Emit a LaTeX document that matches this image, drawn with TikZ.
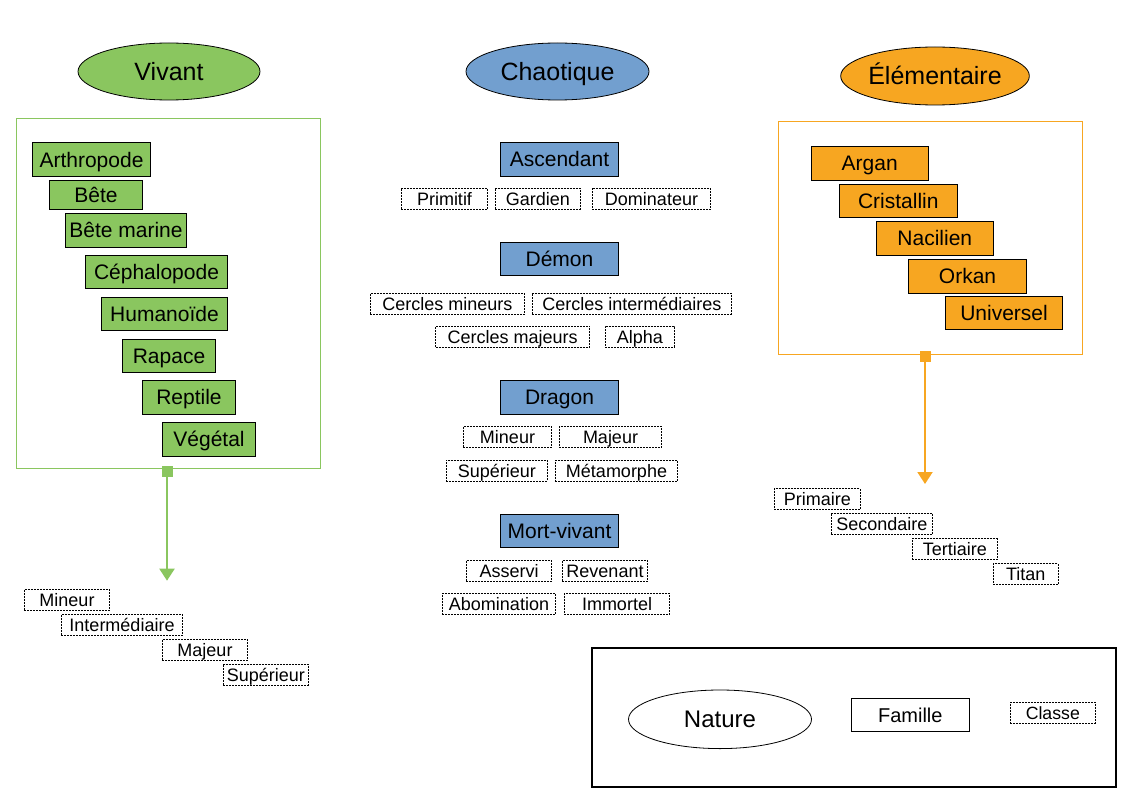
\documentclass[tikz,border=0pt]{standalone}
\usepackage{fontspec}
\setmainfont{Liberation Sans}
\usetikzlibrary{shapes.geometric,arrows.meta}
\definecolor{vgreen}{RGB}{138,198,95}
\definecolor{cblue}{RGB}{114,159,207}
\definecolor{eorange}{RGB}{247,166,33}
\tikzset{
  nature/.style={ellipse, draw=black, line width=0.8pt, inner sep=0pt, text height=18pt, text depth=0pt, font=\fontsize{25}{30}\selectfont},
  famille/.style={rectangle, draw=black, line width=0.9pt, inner sep=0pt, text height=15.1pt, text depth=0pt, minimum height=34pt, font=\fontsize{21}{25}\selectfont},
  classe/.style={rectangle, draw=black, line width=0.7pt, dash pattern=on 2pt off 1pt, inner sep=0pt, text height=13pt, text depth=0pt, minimum height=21pt, font=\fontsize{18}{21}\selectfont},
  cadre/.style={rectangle, line width=0.9pt, inner sep=0pt},
  sqmark/.style={rectangle, inner sep=0pt, minimum size=11pt},
  fleche/.style={line width=2pt, -{Triangle[length=12pt,width=15pt]}},
}
\begin{document}
\begin{tikzpicture}[x=1pt,y=-1pt]
\useasboundingbox (0,0) rectangle (1123,794);
% ---------- Vivant ----------
\node[nature, fill=vgreen, minimum width=182pt, minimum height=57pt] (vivant) at (169,71.5) {Vivant};
\node[cadre, draw=vgreen, minimum width=304pt, minimum height=350pt] (framev) at (168,293) {};
\begin{scope}[every node/.append style={famille, fill=vgreen}]
\node[minimum width=118.4pt] (arthropode) at (91.5,159.7) {Arthropode};
\node[minimum width=93.4pt, minimum height=29pt] (bete) at (96,194.8) {Bête};
\node[minimum width=121.4pt] (betemarine) at (126,230.3) {Bête marine};
\node[minimum width=142.4pt, minimum height=33pt] (cephalopode) at (156.5,271.8) {Céphalopode};
\node[minimum width=126.4pt, minimum height=33pt] (humanoide) at (164.5,313.8) {Humanoïde};
\node[minimum width=93.4pt, minimum height=33pt] (rapace) at (169,355.8) {Rapace};
\node[minimum width=93.4pt] (reptile) at (189,397.3) {Reptile};
\node[minimum width=93.4pt] (vegetal) at (209,439.3) {Végétal};
\end{scope}
\node[sqmark, fill=vgreen] (sqv) at (167,471) {};
\coordinate (tipv) at (167,580.7);
\draw[fleche, draw=vgreen, fill=vgreen] (sqv.center) -- (tipv);
\node[classe, minimum width=85.4pt] (vmineur) at (67,599.8) {Mineur};
\node[classe, minimum width=121.4pt] (vinter) at (122,624.8) {Intermédiaire};
\node[classe, minimum width=85.4pt] (vmajeur) at (205,649.8) {Majeur};
\node[classe, minimum width=85pt] (vsup) at (265.8,674.8) {Supérieur};
% ---------- Chaotique ----------
\node[nature, fill=cblue, minimum width=183pt, minimum height=57pt] (chaotique) at (557.5,71.5) {Chaotique};
\begin{scope}[every node/.append style={famille, fill=cblue, minimum width=118.4pt}]
\node (ascendant) at (559.5,159.3) {Ascendant};
\node[minimum height=33.4pt] (demon) at (559.5,259) {Démon};
\node (dragon) at (559.5,397.3) {Dragon};
\node[minimum height=33pt] (mortvivant) at (559.5,530.8) {Mort-vivant};
\end{scope}
\node[classe, minimum width=86.4pt] (primitif) at (444.5,198.8) {Primitif};
\node[classe, minimum width=85pt] (gardien) at (537.8,198.8) {Gardien};
\node[classe, minimum width=118.4pt] (dominateur) at (651.5,198.8) {Dominateur};
\node[classe, minimum width=154.4pt] (cmineurs) at (447.5,303.8) {Cercles mineurs};
\node[classe, minimum width=199pt] (cinter) at (631.8,303.8) {Cercles intermédiaires};
\node[classe, minimum width=154pt] (cmajeurs) at (512.7,336.8) {Cercles majeurs};
\node[classe, minimum width=69pt] (alpha) at (639.8,336.8) {Alpha};
\node[classe, minimum width=88.4pt] (dmineur) at (507.5,436.8) {Mineur};
\node[classe, minimum width=102.4pt] (dmajeur) at (610.5,436.8) {Majeur};
\node[classe, minimum width=101pt] (dsup) at (496.8,470.8) {Supérieur};
\node[classe, minimum width=122.4pt] (dmeta) at (616.5,470.8) {Métamorphe};
\node[classe, minimum width=85.4pt] (asservi) at (509,570.8) {Asservi};
\node[classe, minimum width=85.4pt] (revenant) at (605,570.8) {Revenant};
\node[classe, minimum width=113.4pt] (abomination) at (499,603.8) {Abomination};
\node[classe, minimum width=105.4pt] (immortel) at (617,603.8) {Immortel};
% ---------- Elementaire ----------
\node[nature, fill=eorange, minimum width=184pt, minimum height=58pt] (elementaire) at (935,76) {Élémentaire};
\node[cadre, draw=eorange, minimum width=304.4pt, minimum height=233.5pt] (framee) at (930.5,238) {};
\begin{scope}[every node/.append style={famille, fill=eorange}]
\node[minimum width=117.3pt] (argan) at (869.7,163.2) {Argan};
\node[minimum width=118.7pt, minimum height=33pt] (cristallin) at (898.3,200.6) {Cristallin};
\node[minimum width=117pt] (nacilien) at (934.8,238) {Nacilien};
\node[minimum width=118.4pt] (orkan) at (967.5,276) {Orkan};
\node[minimum width=117.4pt, minimum height=33pt] (universel) at (1004,313.3) {Universel};
\end{scope}
\node[sqmark, fill=eorange] (sqe) at (925,356.5) {};
\coordinate (tipe) at (925,484);
\draw[fleche, draw=eorange, fill=eorange] (sqe.center) -- (tipe);
\node[classe, minimum width=86pt] (primaire) at (817.3,499) {Primaire};
\node[classe, minimum width=101.7pt] (secondaire) at (881.8,524) {Secondaire};
\node[classe, minimum width=85pt] (tertiaire) at (954.8,549) {Tertiaire};
\node[classe, minimum width=65pt] (titan) at (1025.8,574) {Titan};
% ---------- Legende ----------
\node[rectangle, draw=black, line width=2pt, inner sep=0pt, minimum width=524pt, minimum height=139pt] (legende) at (854,717.5) {};
\node[nature, fill=white, minimum width=183pt, minimum height=58.6pt, text height=17.3pt, font=\fontsize{24}{29}\selectfont] (lnature) at (720,719.3) {Nature};
\node[famille, fill=white, minimum width=117.7pt, minimum height=33pt, text height=14.4pt, font=\fontsize{20}{24}\selectfont] (lfamille) at (910.3,714.8) {Famille};
\node[classe, minimum width=84.8pt, text height=12.7pt, font=\fontsize{17.7}{21}\selectfont] (lclasse) at (1052.8,712.8) {Classe};
\end{tikzpicture}
\end{document}
